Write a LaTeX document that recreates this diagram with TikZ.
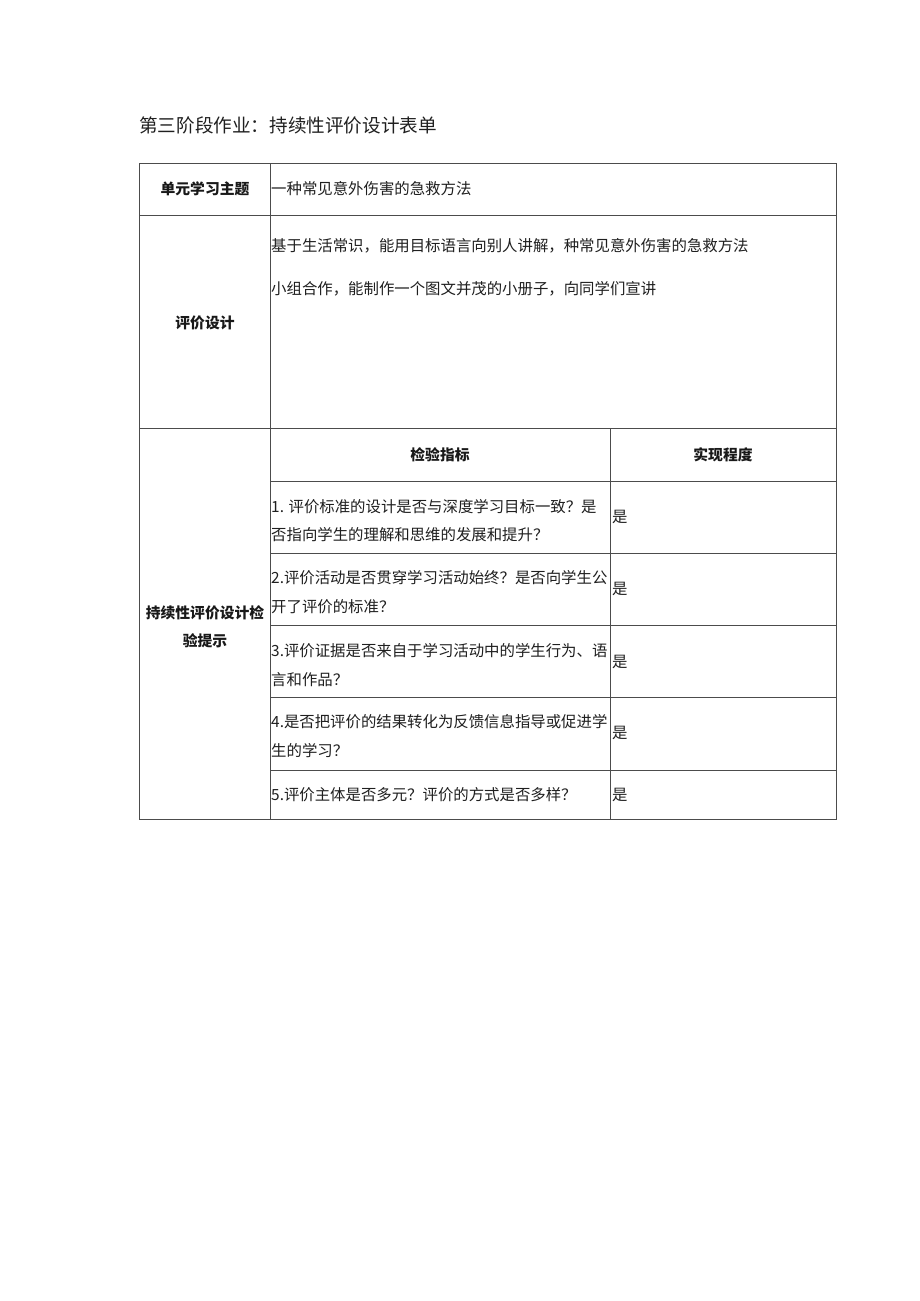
\documentclass[tikz,border=0pt]{standalone}
\usepackage{fontspec}
\setmainfont{Noto Sans CJK SC}
\begin{document}
\begin{tikzpicture}[x=1pt,y=-1pt,
  gridline/.style={draw=black!70,line width=0.9pt},
  body/.style={inner sep=0pt,anchor=west,align=left,text=black!88,
    font=\fontsize{15.4}{28.5}\selectfont},
  head/.style={inner sep=0pt,anchor=center,align=center,text=black!90,
    font=\fontsize{14.8}{28}\selectfont\bfseries},
  ttl/.style={inner sep=0pt,anchor=west,text=black!88,
    font=\fontsize{18.6}{22}\selectfont}]
\useasboundingbox[fill=white] (0,0) rectangle (920,1301);

\node[ttl] (title) at (139,125) {第三阶段作业：持续性评价设计表单};

% table grid
\draw[gridline] (139,163) rectangle (836,819);
\draw[gridline] (270,163) -- (270,819);
\draw[gridline] (139,215) -- (836,215);
\draw[gridline] (139,428) -- (836,428);
\draw[gridline] (610,428) -- (610,819);
\foreach \yy in {481,553,625,697,770} \draw[gridline] (270,\yy) -- (836,\yy);

% row 1
\node[head] (h1) at (205,189) {单元学习主题};
\node[body] (c1) at (271,189) {一种常见意外伤害的急救方法};
% row 2
\node[head] (h2) at (205,323) {评价设计};
\node[body] (c2a) at (271,246) {基于生活常识，能用目标语言向别人讲解，种常见意外伤害的急救方法};
\node[body] (c2b) at (271,289) {小组合作，能制作一个图文并茂的小册子，向同学们宣讲};
% row 3
\node[head] (h3) at (205,627) {持续性评价设计检\\验提示};
\node[head] (k1) at (440,455) {检验指标};
\node[head] (k2) at (723,455) {实现程度};
\node[body] (q1) at (271,520.5) {1. 评价标准的设计是否与深度学习目标一致？是\\否指向学生的理解和思维的发展和提升？};
\node[body] (a1) at (612,517) {是};
\node[body] (q2) at (271,592) {2.评价活动是否贯穿学习活动始终？是否向学生公\\开了评价的标准？};
\node[body] (a2) at (612,589) {是};
\node[body] (q3) at (271,665) {3.评价证据是否来自于学习活动中的学生行为、语\\言和作品？};
\node[body] (a3) at (612,662) {是};
\node[body] (q4) at (271,736) {4.是否把评价的结果转化为反馈信息指导或促进学\\生的学习？};
\node[body] (a4) at (612,733) {是};
\node[body] (q5) at (271,795) {5.评价主体是否多元？评价的方式是否多样？};
\node[body] (a5) at (612,795) {是};
\end{tikzpicture}
\end{document}
